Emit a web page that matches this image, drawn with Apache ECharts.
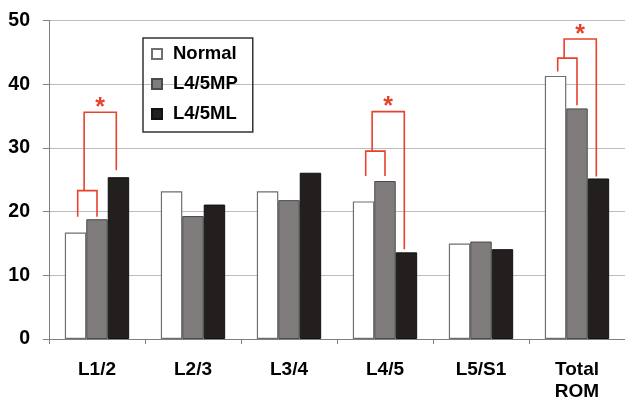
<!DOCTYPE html>
<html>
<head>
<meta charset="utf-8">
<script src="https://cdn.jsdelivr.net/npm/echarts@6/dist/echarts.min.js"></script>
<style>
html,body{margin:0;padding:0;background:#fff;}
#chart{width:625px;height:404px;}
</style>
</head>
<body>
<div id="chart"></div>
<script>
// ---- data ----
var categories = ['L1/2', 'L2/3', 'L3/4', 'L4/5', 'L5/S1', 'Total\nROM'];
var seriesNames = ['Normal', 'L4/5MP', 'L4/5ML'];
var normal = [16.7, 23.2, 23.2, 21.6, 15.0, 41.3];
var mp     = [18.8, 19.3, 21.8, 24.8, 15.3, 36.2];
var ml     = [25.4, 21.1, 26.1, 13.6, 14.1, 25.2];
var yTicks = [0, 10, 20, 30, 40, 50];

// significance brackets: category index, inner bracket top / leg ends, outer bracket top / right leg end
var bracketCats      = [0, 3, 5];
var innerTop         = [23.3, 29.5, 44.1];
var innerLeftEnd     = [19.2, 25.6, 42.0];
var innerRightEnd    = [19.2, 25.6, 36.7];
var outerTop         = [35.6, 35.7, 47.1];
var outerRightEnd    = [26.5, 14.1, 25.5];

var bracketData = bracketCats.map(function (c, i) {
  return [c, innerTop[i], innerLeftEnd[i], innerRightEnd[i], outerTop[i], outerRightEnd[i]];
});

var FONT = '"Liberation Sans", Arial, sans-serif';
var RED = '#e8412c';
var CAT_GAP = 0.33;

function renderBracket(params, api) {
  var c = api.value(0);
  var center = api.coord([c, 0])[0];
  var band = api.size([1, 0])[0];
  var bw = band * (1 - CAT_GAP) / 3;
  var xW = center - bw, xG = center, xB = center + bw;
  var iL = xW + 0.1 * bw, iR = xG, oL = xW + 0.4 * bw, oR = xB - 0.1 * bw;
  var y = function (v) { return api.coord([c, v])[1]; };
  var iTop = y(api.value(1)), iLE = y(api.value(2)), iRE = y(api.value(3));
  var oTop = y(api.value(4)), oRE = y(api.value(5));
  var style = { stroke: RED, lineWidth: 1.6, fill: null };
  return {
    type: 'group',
    children: [
      { type: 'polyline', shape: { points: [[iL, iLE], [iL, iTop], [iR, iTop], [iR, iRE]] }, style: style },
      { type: 'polyline', shape: { points: [[oL, iTop], [oL, oTop], [oR, oTop], [oR, oRE]] }, style: style },
      { type: 'text', style: { text: '*', x: (oL + oR) / 2, y: oTop - 4, textAlign: 'center', textVerticalAlign: 'middle',
          fill: RED, font: 'bold 25px ' + FONT } }
    ]
  };
}

var chart = echarts.init(document.getElementById('chart'), null, { renderer: 'canvas' });
chart.setOption({
  animation: false,
  backgroundColor: '#ffffff',
  grid: { left: 49, top: 20.5, width: 580, height: 318.5, containLabel: false },
  legend: {
    orient: 'vertical',
    left: 143, top: 38,
    data: seriesNames,
    icon: 'rect',
    itemWidth: 10, itemHeight: 10,
    itemGap: 10,
    padding: [6, 15, 8, 8],
    borderColor: '#333333', borderWidth: 1.5,
    textStyle: { fontFamily: FONT, fontWeight: 'bold', fontSize: 18.5, color: '#000', lineHeight: 20, padding: [0, 0, 0, 6] }
  },
  xAxis: {
    type: 'category',
    data: categories,
    axisLine: { lineStyle: { color: '#7f7f7f', width: 1 } },
    axisTick: { show: true, length: 5, lineStyle: { color: '#7f7f7f' } },
    axisLabel: { fontFamily: FONT, fontWeight: 'bold', fontSize: 19, color: '#000', margin: 20, lineHeight: 22, interval: 0 }
  },
  yAxis: {
    type: 'value',
    min: 0, max: 50, interval: 10,
    axisLine: { show: true, lineStyle: { color: '#7f7f7f', width: 1 } },
    axisTick: { show: true, length: 6, lineStyle: { color: '#7f7f7f' } },
    axisLabel: { fontFamily: FONT, fontWeight: 'bold', fontSize: 19.5, color: '#000', margin: 19,
      formatter: function (v) { return yTicks.indexOf(v) >= 0 ? String(v) : ''; } },
    splitLine: { lineStyle: { color: '#bdbdbd', width: 1 } }
  },
  series: [
    { name: seriesNames[0], type: 'bar', data: normal, barGap: '0%', barCategoryGap: (CAT_GAP * 100) + '%',
      itemStyle: { color: '#ffffff', borderColor: '#6f6f6f', borderWidth: 1.2 } },
    { name: seriesNames[1], type: 'bar', data: mp,
      itemStyle: { color: '#807c7b', borderColor: '#4a4a4a', borderWidth: 1 } },
    { name: seriesNames[2], type: 'bar', data: ml,
      itemStyle: { color: '#221f1e', borderColor: '#111111', borderWidth: 1 } },
    { type: 'custom', name: 'brackets', silent: true, z: 10, data: bracketData,
      encode: { x: 0, y: [1, 4] }, renderItem: renderBracket }
  ]
});
</script>
</body>
</html>
